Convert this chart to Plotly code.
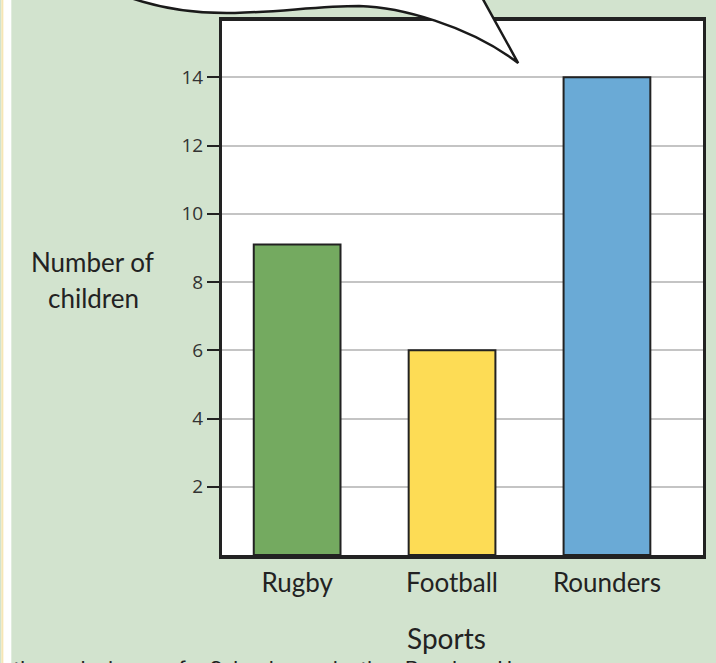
import plotly.graph_objects as go

# data
sports = ['Rugby', 'Football', 'Rounders']
children = [9.1, 6, 14]
bar_colors = ['#74aa60', '#fddc55', '#6aaad6']
y_ticks = [2, 4, 6, 8, 10, 12, 14]

W, H = 716, 663
L, R, T, B = 222, 10, 21, 108   # margins (px)
PW, PH = W - L - R, H - T - B

HAND = 'Comic Sans MS, Lato, sans-serif'
GREEN_BG = '#d2e3ce'


def px(x):
    # pixel x -> paper x
    return (x - L) / PW


def py(y):
    # pixel y -> paper y
    return (H - B - y) / PH


def path(points):
    # points: list of (cmd, [(x, y), ...]) in pixel coords
    out = []
    for cmd, pts in points:
        out.append(cmd + ' ' + ' '.join(f'{px(x):.4f},{py(y):.4f}' for x, y in pts))
    return ' '.join(out) + ' Z'


def note(text, x, y, size, family=HAND, xanchor='center'):
    return dict(text=text, xref='paper', yref='paper', x=px(x), y=py(y),
                xanchor=xanchor, yanchor='middle', showarrow=False,
                font=dict(family=family, size=size, color='#222222'))


fig = go.Figure(go.Bar(
    x=sports,
    y=children,
    width=0.56,
    marker=dict(color=bar_colors, line=dict(color='#222222', width=2)),
    hoverinfo='x+y',
))

# speech bubble poking in from the top
bubble = path([
    ('M', [(90, -20)]),
    ('C', [(140, 8), (190, 14), (235, 13)]),
    ('C', [(280, 12), (320, 6), (360, 6)]),
    ('C', [(400, 7), (470, 25), (520, 63)]),
    ('L', [(485, 0)]),
    ('L', [(480, -20)]),
])

fig.update_layout(
    width=W, height=H,
    margin=dict(l=L, r=R, t=T, b=B),
    paper_bgcolor=GREEN_BG,
    plot_bgcolor='white',
    showlegend=False,
    xaxis=dict(
        range=[-0.485, 2.62],
        showline=True, linecolor='#222222', linewidth=4, mirror=True,
        showgrid=False, ticks='', ticklabelstandoff=2,
        tickfont=dict(family=HAND, size=26, color='#222222'),
        fixedrange=True,
    ),
    yaxis=dict(
        range=[0, 15.65],
        tickvals=y_ticks,
        showline=True, linecolor='#222222', linewidth=3, mirror=True,
        showgrid=True, gridcolor='#c4c4c4', gridwidth=2,
        ticks='outside', ticklen=12, tickwidth=2, tickcolor='#222222',
        tickfont=dict(family='Open Sans, sans-serif', size=19, color='#333333'),
        zeroline=False, fixedrange=True,
    ),
    shapes=[
        dict(type='rect', xref='paper', yref='paper', layer='below',
             x0=px(0), x1=px(10), y0=py(H), y1=py(0),
             fillcolor='white', line=dict(width=0)),
        dict(type='rect', xref='paper', yref='paper', layer='below',
             x0=px(0), x1=px(2), y0=py(H), y1=py(0),
             fillcolor='#f6e6b4', line=dict(width=0)),
        dict(type='path', xref='paper', yref='paper', layer='above',
             path=bubble, fillcolor='white',
             line=dict(color='#1a1a1a', width=2.5)),
    ],
    annotations=[
        note('Number of', 92, 262, 26),
        note('children', 93, 298, 26),
        note('Sports', 448, 638, 28),
        note('r the exclusive use for School organisation, Penelope Hooper',
             -2, 669, 21, family='Roboto, sans-serif', xanchor='left'),
    ],
)

fig.write_html('out.html', config={'displayModeBar': False},
               post_script="document.body.style.margin='0';")
